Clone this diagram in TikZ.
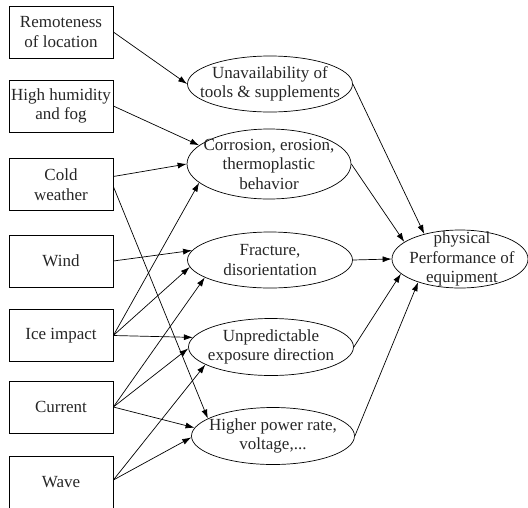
\documentclass[tikz,border=0pt]{standalone}
\usepackage{fontspec}
\setmainfont{Liberation Serif}
\newfontfamily\labelface{Liberation Serif}
\usetikzlibrary{shapes.geometric,arrows.meta}
\begin{document}
\begin{tikzpicture}[x=1pt,y=-1pt,
  every node/.style={font=\labelface\fontsize{17}{19.5}\selectfont, text=black!85},
  factor/.style={draw, line width=0.7pt, minimum width=104pt, minimum height=52pt, inner sep=0pt, align=center},
  effect/.style={draw, ellipse, line width=0.7pt, inner sep=0pt},
  lbl/.style={align=center, inner sep=0pt},
  link/.style={line width=0.7pt, -{Latex[length=9pt,width=6pt]}}]
\useasboundingbox (0,0) rectangle (528,507);

% causes
\node[factor] (rem) at (61,32)    {Remoteness\\of location};
\node[factor] (hum) at (61,106)   {High humidity\\and fog};
\node[factor] (cold) at (61,184.5) {Cold\\weather};
\node[factor] (wind) at (61,261)  {Wind};
\node[factor] (ice) at (61,335.5) {Ice impact};
\node[factor] (cur) at (61,407)   {Current};
\node[factor] (wave) at (61,482)  {Wave};

% intermediate effects
\node[effect, minimum width=165pt, minimum height=56pt] (una) at (270,84) {};
\node[lbl] (unat) at (una) {Unavailability of\\tools \& supplements};
\node[effect, minimum width=164pt, minimum height=70pt] (cor) at (269,164) {};
\node[lbl] (cort) at (cor) {Corrosion, erosion,\\thermoplastic\\behavior};
\node[effect, minimum width=165pt, minimum height=56pt] (fra) at (270,260) {};
\node[lbl] (frat) at (fra) {Fracture,\\disorientation};
\node[effect, minimum width=165pt, minimum height=57pt] (unp) at (271,347) {};
\node[lbl] (unpt) at (unp) {Unpredictable\\exposure direction};
\node[effect, minimum width=163pt, minimum height=57pt] (pow) at (273,436) {};
\node[lbl] (powt) at (pow) {Higher power rate,\\voltage,...};

% outcome
\node[effect, minimum width=136pt, minimum height=58pt] (perf) at (460,259) {};
\node[lbl] (perft) at (462,259) {physical\\Performance of\\equipment};

% causes -> effects
\draw[link] (rem.east) -- (una.west);
\draw[link] (hum.east) -- (cor.165);
\draw[link] ([yshift=8pt]cold.east) -- (cor.west);
\draw[link] ([yshift=-2pt]cold.east) -- (pow.165);
\draw[link] (wind.east) -- (fra.173);
\draw[link] (ice.east) -- (cor.195);
\draw[link] (ice.east) -- (fra.185);
\draw[link] (ice.east) -- (unp.173);
\draw[link] (cur.east) -- (fra.195);
\draw[link] (cur.east) -- (unp.181);
\draw[link] (cur.east) -- (pow.174);
\draw[link] ([yshift=2pt]wave.east) -- (unp.195);
\draw[link] ([yshift=2pt]wave.east) -- (pow.181);

% effects -> outcome
\draw[link] (una.east) -- (perf.145);
\draw[link] (cor.east) -- (perf.163);
\draw[link] (fra.east) -- (perf.west);
\draw[link] (unp.east) -- (perf.194);
\draw[link] (pow.east) -- (perf.209);
\end{tikzpicture}
\end{document}
